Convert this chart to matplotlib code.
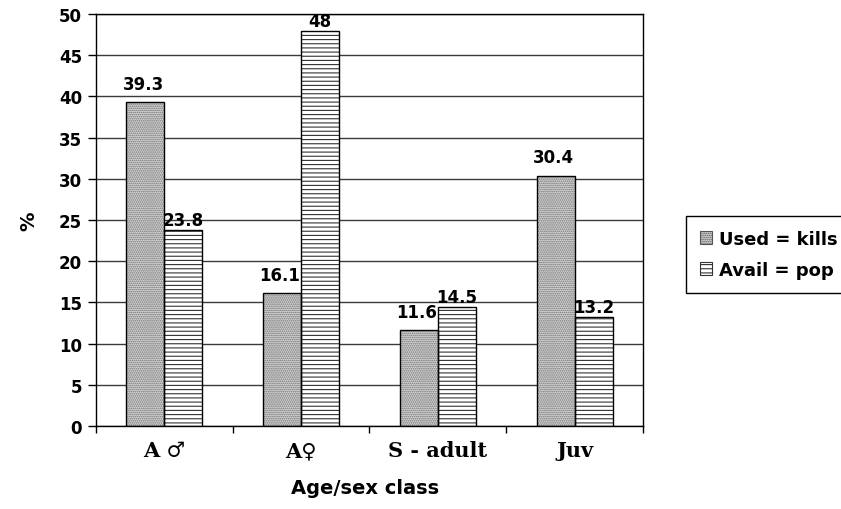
import matplotlib.pyplot as plt
import numpy as np

# Age/sex classes and the two percentage series
classes = ["A \u2642", "A\u2640", "S - adult", "Juv"]
used_kills = [39.3, 16.1, 11.6, 30.4]
avail_pop = [23.8, 48, 14.5, 13.2]
used_text = ["39.3", "16.1", "11.6", "30.4"]
avail_text = ["23.8", "48", "14.5", "13.2"]
yticks = [0, 5, 10, 15, 20, 25, 30, 35, 40, 45, 50]

plt.rcParams['font.family'] = ['DejaVu Sans']
plt.rcParams['hatch.linewidth'] = 0.8

fig = plt.figure(figsize=(8.41, 5.10), dpi=100)
ax = fig.add_axes([0.1141, 0.1627, 0.6504, 0.8078])

x = np.arange(len(classes))
w = 0.278

# gridlines behind the bars
for v in yticks:
    ax.axhline(v, color='#3a3a3a', lw=1.0, zorder=0)

# stippled "used" bars: grey dot hatch, then a black outline
ax.bar(x - w / 2, used_kills, w, color='#d6d6d6', edgecolor='#6e6e6e',
       hatch='........', linewidth=0, zorder=2)
ax.bar(x - w / 2, used_kills, w, fill=False, edgecolor='black',
       linewidth=1.0, zorder=3)
# striped "avail" bars
ax.bar(x + w / 2, avail_pop, w, color='white', edgecolor='#333333',
       hatch='----', linewidth=0, zorder=2)
ax.bar(x + w / 2, avail_pop, w, fill=False, edgecolor='black',
       linewidth=1.0, zorder=3)

for xi, v, t in zip(x, used_kills, used_text):
    ax.text(xi - w / 2 - 0.015, v + 1.1, t, ha='center', va='bottom',
            fontsize=12, fontweight='bold', zorder=4)
for xi, v, t in zip(x, avail_pop, avail_text):
    ax.text(xi + w / 2, v + 0.1, t, ha='center', va='bottom',
            fontsize=12, fontweight='bold', zorder=4)

ax.set_xlim(-0.5, 3.5)
ax.set_ylim(0, 50)
ax.set_yticks(yticks)
ax.set_yticklabels([str(v) for v in yticks], fontsize=12, fontweight='bold')
ax.tick_params(axis='y', length=6, width=1, pad=4)

# category ticks sit between the groups, names centred under each group
ax.set_xticks(np.arange(-0.5, 4, 1))
ax.set_xticklabels([])
ax.tick_params(axis='x', length=5, width=1)
for xi, name in zip(x, classes):
    ax.text(xi, -2.9, name, ha='center', va='center', fontsize=15,
            fontweight='bold', family=['DejaVu Serif'])

for s in ax.spines.values():
    s.set_color('black')
    s.set_linewidth(1.0)

ax.set_ylabel('%', fontsize=14, fontweight='bold')
ax.yaxis.set_label_coords(-0.105, 0.5)
fig.text(0.434, 0.024, 'Age/sex class', ha='center', va='bottom',
         fontsize=14, fontweight='bold')

# legend swatches
h1 = plt.Rectangle((0, 0), 1, 1, facecolor='#d6d6d6', edgecolor='#555555',
                   hatch='........', linewidth=0.8)
h2 = plt.Rectangle((0, 0), 1, 1, facecolor='white', edgecolor='#333333',
                   hatch='----', linewidth=0.8)
leg = fig.legend([h1, h2], ['Used = kills', 'Avail = pop'], loc='upper left',
                 bbox_to_anchor=(0.8157, 0.5745), fancybox=False,
                 edgecolor='black', framealpha=1, handlelength=0.7,
                 handleheight=0.7, handletextpad=0.35, borderpad=0.75,
                 borderaxespad=0, labelspacing=0.75,
                 prop={'size': 13, 'weight': 'bold'})
leg.get_frame().set_linewidth(1.0)

fig.savefig('out.png', dpi=100)
